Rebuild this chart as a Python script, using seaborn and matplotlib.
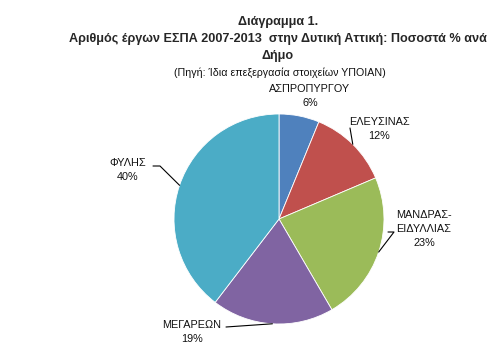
import numpy as np
import matplotlib
matplotlib.use("Agg")
import matplotlib.pyplot as plt
import seaborn as sns

# data (share of projects per municipality, %)
municipalities = ["ΑΣΠΡΟΠΥΡΓΟΥ", "ΕΛΕΥΣΙΝΑΣ", "ΜΑΝΔΡΑΣ-\nΕΙΔΥΛΛΙΑΣ", "ΜΕΓΑΡΕΩΝ", "ΦΥΛΗΣ"]
shares = [6.2, 12.4, 23.0, 18.8, 39.6]
colors = ["#4F81BD", "#C0504D", "#9BBB59", "#8064A2", "#4BACC6"]

title = "Διάγραμμα 1.\nΑριθμός έργων ΕΣΠΑ 2007-2013  στην Δυτική Αττική: Ποσοστά % ανά\nΔήμο"
subtitle = "(Πηγή: Ίδια επεξεργασία στοιχείων ΥΠΟΙΑΝ)"

# layout, in pixels of the 500x355 figure
W, H = 500, 355
cx, cy, R = 279, 219, 105
label_pos = [(310, 96), (379, 129), (424, 229), (192, 332), (128, 170)]
leader_start = [None, (350, 128), (388, 232), (226, 327), (153, 166)]
leader_stub = [None, None, (394, 232), None, (160, 166)]

sns.set_theme(style="white")
plt.rcParams["font.family"] = ["Liberation Sans", "DejaVu Sans"]


def px(p):
    # pixel position -> data coordinates (pie of radius 1 at origin)
    return ((p[0] - cx) / R, (cy - p[1]) / R)


fig = plt.figure(figsize=(W / 100, H / 100), dpi=100)
ax = fig.add_axes([0, 0, 1, 1])
wedges, _ = ax.pie(shares, colors=colors, startangle=90, counterclock=False,
                   wedgeprops=dict(edgecolor="white", linewidth=0.6))
ax.set_xlim(-cx / R, (W - cx) / R)
ax.set_ylim(-(H - cy) / R, cy / R)
ax.set_aspect("auto")
ax.axis("off")

for i, w in enumerate(wedges):
    mid = np.deg2rad((w.theta1 + w.theta2) / 2)
    edge = (np.cos(mid), np.sin(mid))
    lx, ly = px(label_pos[i])
    ax.text(lx, ly, f"{municipalities[i]}\n{shares[i]:.0f}%", ha="center", va="center",
            fontsize=7.8, color="#111111", linespacing=1.45)
    if leader_start[i] is not None:
        pts = [px(leader_start[i])]
        if leader_stub[i] is not None:
            pts.append(px(leader_stub[i]))
        pts.append(edge)
        xs, ys = zip(*pts)
        ax.plot(xs, ys, color="black", linewidth=0.8)

fig.text(278 / W, 1 - 39 / H, title, ha="center", va="center", fontsize=9.1,
         fontweight="bold", linespacing=1.55)
fig.text(280 / W, 1 - 73 / H, subtitle, ha="center", va="center", fontsize=7.7,
         color="#111111")

fig.savefig("out.png", dpi=100)
